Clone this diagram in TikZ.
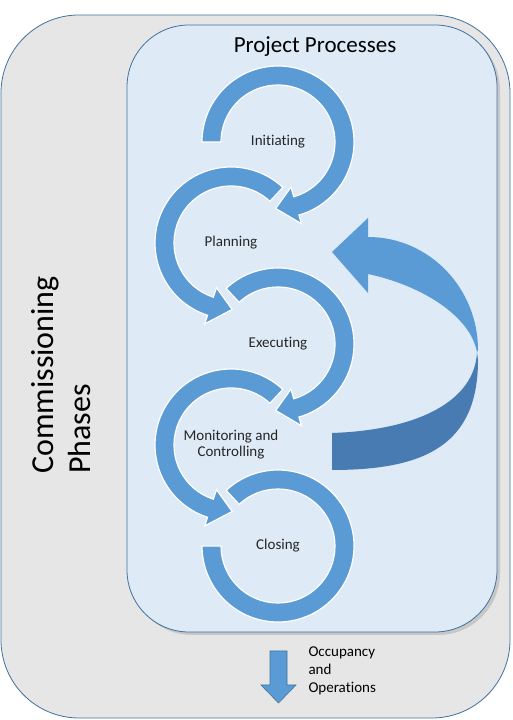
\documentclass[tikz,border=0pt]{standalone}
\usepackage{fontspec}
\setmainfont[Ligatures=NoCommon, Contextuals=NoAlternate]{Carlito}
\usetikzlibrary{shadows}

\definecolor{ringblue}{HTML}{5B9BD5}
\definecolor{ribbondark}{HTML}{477BB2}
\definecolor{edgeblue}{HTML}{41719C}
\definecolor{panelblue}{HTML}{DEEAF6}
\definecolor{outergray}{HTML}{E6E6E6}

\tikzset{
    ring/.style={fill=ringblue, draw=white, line width=1.2pt},
    phasetext/.style={font=\fontsize{15}{16}\selectfont, text=black!85, align=center},
}

% ring arrow round a phase node: node, start angle, head base angle, tip angle
\newcommand{\ringarrow}[4]{
    \filldraw[ring] ([shift={(#2:76)}]#1.center) arc[start angle=#2, end angle=#3, radius=76]
        -- ([shift={(#3:85)}]#1.center) -- ([shift={(#4:66.5)}]#1.center)
        -- ([shift={(#3:47)}]#1.center) -- ([shift={(#3:57)}]#1.center)
        arc[start angle=#3, end angle=#2, radius=57] -- cycle;
}

\begin{document}
\begin{tikzpicture}[x=1pt, y=1pt]
    \useasboundingbox (0,0) rectangle (512,720);
    \draw[fill=outergray, draw=edgeblue, line width=0.8pt, rounded corners=78pt] (1,2) rectangle (510,705);
    \draw[fill=panelblue, draw=edgeblue, line width=0.8pt, rounded corners=62pt,
        drop shadow={shadow xshift=3pt, shadow yshift=-3pt, opacity=0.3}] (127,88) rectangle (497,695);

    \node[rotate=90, align=left, font=\fontsize{32}{37}\selectfont] (phases) at (61,345) {Commissioning\\Phases};
    \node[font=\fontsize{23}{28}\selectfont] (title) at (315,673) {Project Processes};

    \node[phasetext] (init) at (278,578) {Initiating};
    \node[phasetext] (plan) at (231,477) {Planning};
    \node[phasetext] (exec) at (278,376) {Executing};
    \node[phasetext] (moni) at (231,275) {Monitoring and\\Controlling};
    \node[phasetext] (clos) at (278,174) {Closing};

    % closing ring has no head
    \filldraw[ring] ([shift={(133:76)}]clos.center) arc[start angle=133, end angle=-180, radius=76]
        -- ([shift={(-180:57)}]clos.center) arc[start angle=-180, end angle=133, radius=57] -- cycle;
    \ringarrow{moni}{47}{252}{271}
    \ringarrow{exec}{133}{-74}{-92}
    \ringarrow{plan}{47}{252}{271}
    \ringarrow{init}{180}{-74}{-92}

    % feedback ribbon
    \fill[ribbondark] (477,368) -- (478,360) .. controls (478,275) and (425,250) .. (332,250)
        -- (332,287) .. controls (420,290) and (475,320) .. (477,368) -- cycle;
    \fill[ringblue] (368,446) -- (368,427) -- (332,468) -- (368,502) -- (368,483)
        .. controls (429,483) and (478,432) .. (478,370) -- (477,368)
        .. controls (470,405) and (420,435) .. (368,446) -- cycle;

    \draw[fill=ringblue, draw=edgeblue, line width=0.6pt] (270,69) -- (287,69) -- (287,35) -- (296,35)
        -- (278.5,17) -- (261,35) -- (270,35) -- cycle;
    \node[anchor=west, align=left, font=\fontsize{15}{18}\selectfont] (occu) at (305,49) {Occupancy\\and\\Operations};
\end{tikzpicture}
\end{document}
